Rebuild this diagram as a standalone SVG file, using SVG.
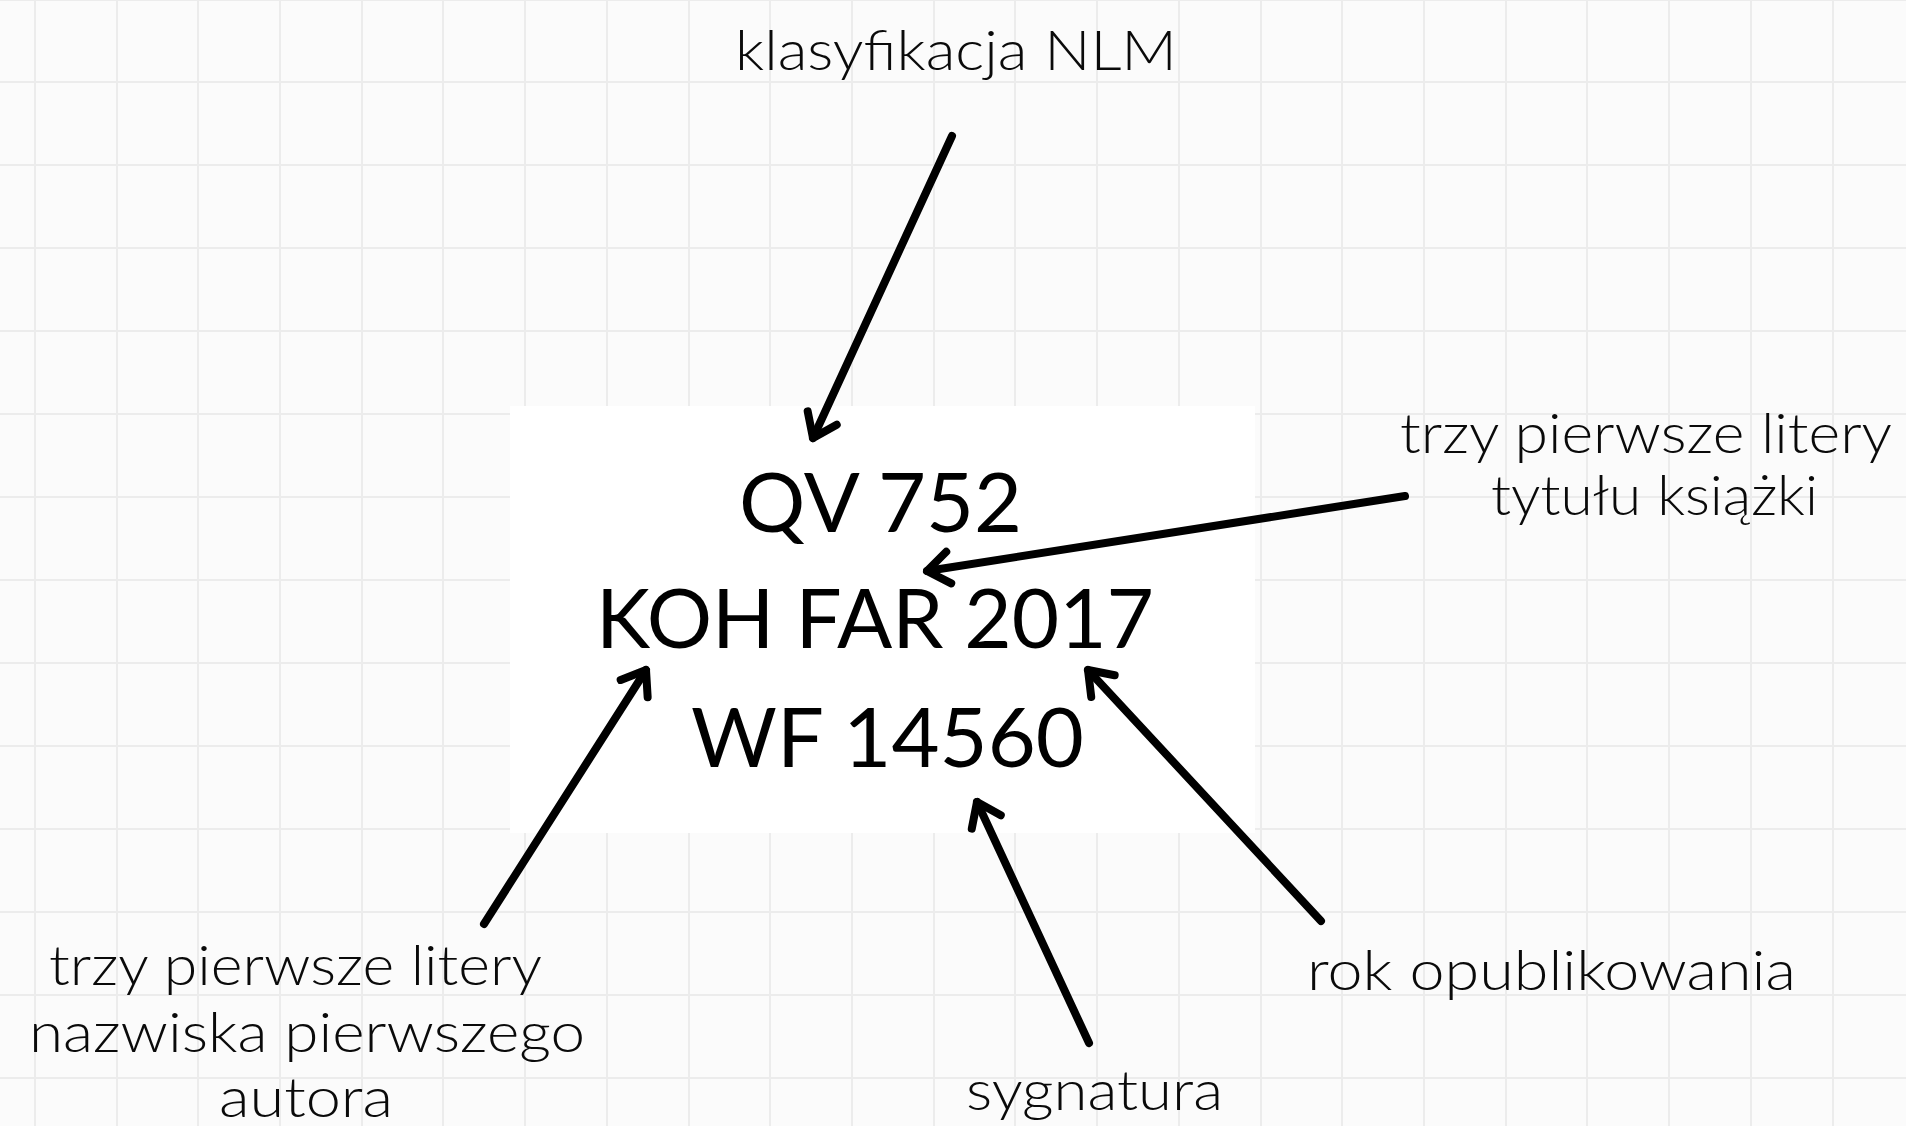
<svg xmlns="http://www.w3.org/2000/svg" width="1906" height="1126" viewBox="0 0 1906 1126">
<style>
.grid line{stroke:#ececec;stroke-width:2}
.lbl{font-family:Lato,"Noto Sans",sans-serif;font-size:56px;font-weight:300;fill:#0a0a0a}
.code{font-family:Lato,"Open Sans",sans-serif;font-size:81px;fill:#000}
.arrow{stroke:#000;stroke-width:8;stroke-linecap:round;fill:none}
</style>
<defs>
<marker id="head" markerUnits="userSpaceOnUse" orient="auto" refX="0" refY="0" markerWidth="60" markerHeight="60" overflow="visible">
<path d="M-22,-16 L0,0 L-22,16" fill="none" stroke="#000" stroke-width="8" stroke-linecap="round" stroke-linejoin="round"/>
</marker>
</defs>
<rect x="0" y="0" width="1906" height="1126" fill="#fbfbfb"/>
<g class="grid">
<line x1="35" y1="0" x2="35" y2="1126"/>
<line x1="117" y1="0" x2="117" y2="1126"/>
<line x1="198" y1="0" x2="198" y2="1126"/>
<line x1="280" y1="0" x2="280" y2="1126"/>
<line x1="362" y1="0" x2="362" y2="1126"/>
<line x1="443" y1="0" x2="443" y2="1126"/>
<line x1="525" y1="0" x2="525" y2="1126"/>
<line x1="607" y1="0" x2="607" y2="1126"/>
<line x1="689" y1="0" x2="689" y2="1126"/>
<line x1="770" y1="0" x2="770" y2="1126"/>
<line x1="852" y1="0" x2="852" y2="1126"/>
<line x1="934" y1="0" x2="934" y2="1126"/>
<line x1="1015" y1="0" x2="1015" y2="1126"/>
<line x1="1097" y1="0" x2="1097" y2="1126"/>
<line x1="1179" y1="0" x2="1179" y2="1126"/>
<line x1="1261" y1="0" x2="1261" y2="1126"/>
<line x1="1342" y1="0" x2="1342" y2="1126"/>
<line x1="1424" y1="0" x2="1424" y2="1126"/>
<line x1="1506" y1="0" x2="1506" y2="1126"/>
<line x1="1587" y1="0" x2="1587" y2="1126"/>
<line x1="1669" y1="0" x2="1669" y2="1126"/>
<line x1="1751" y1="0" x2="1751" y2="1126"/>
<line x1="1833" y1="0" x2="1833" y2="1126"/>
<line x1="0" y1="0" x2="1906" y2="0"/>
<line x1="0" y1="82" x2="1906" y2="82"/>
<line x1="0" y1="165" x2="1906" y2="165"/>
<line x1="0" y1="248" x2="1906" y2="248"/>
<line x1="0" y1="331" x2="1906" y2="331"/>
<line x1="0" y1="414" x2="1906" y2="414"/>
<line x1="0" y1="497" x2="1906" y2="497"/>
<line x1="0" y1="580" x2="1906" y2="580"/>
<line x1="0" y1="663" x2="1906" y2="663"/>
<line x1="0" y1="746" x2="1906" y2="746"/>
<line x1="0" y1="829" x2="1906" y2="829"/>
<line x1="0" y1="912" x2="1906" y2="912"/>
<line x1="0" y1="995" x2="1906" y2="995"/>
<line x1="0" y1="1078" x2="1906" y2="1078"/>
</g>
<g id="code-box">
<rect x="510" y="406" width="745" height="427" fill="#ffffff"/>
<text class="code" x="739" y="532" textLength="283" lengthAdjust="spacingAndGlyphs">QV 752</text>
<text class="code" x="596" y="648" textLength="558" lengthAdjust="spacingAndGlyphs">KOH FAR 2017</text>
<text class="code" x="691" y="767" textLength="393" lengthAdjust="spacingAndGlyphs">WF 14560</text>
</g>
<g id="label-nlm">
<text class="lbl" x="735" y="70" textLength="442" lengthAdjust="spacingAndGlyphs">klasyfikacja NLM</text>
</g>
<g id="label-tytul">
<text class="lbl" x="1400" y="453" textLength="492" lengthAdjust="spacingAndGlyphs">trzy pierwsze litery</text>
<text class="lbl" x="1491" y="515" textLength="327" lengthAdjust="spacingAndGlyphs">tytułu książki</text>
</g>
<g id="label-autor">
<text class="lbl" x="49" y="985" textLength="493" lengthAdjust="spacingAndGlyphs">trzy pierwsze litery</text>
<text class="lbl" x="29" y="1052" textLength="556" lengthAdjust="spacingAndGlyphs">nazwiska pierwszego</text>
<text class="lbl" x="219" y="1117" textLength="174" lengthAdjust="spacingAndGlyphs">autora</text>
</g>
<g id="label-rok">
<text class="lbl" x="1307" y="990" textLength="489" lengthAdjust="spacingAndGlyphs">rok opublikowania</text>
</g>
<g id="label-sygnatura">
<text class="lbl" x="966" y="1110" textLength="257" lengthAdjust="spacingAndGlyphs">sygnatura</text>
</g>
<g id="connectors">
<line class="arrow" x1="952" y1="136" x2="813" y2="438" marker-end="url(#head)"/>
<line class="arrow" x1="1405" y1="496" x2="927" y2="571" marker-end="url(#head)"/>
<line class="arrow" x1="484" y1="924" x2="646" y2="670" marker-end="url(#head)"/>
<line class="arrow" x1="1321" y1="921" x2="1088" y2="670" marker-end="url(#head)"/>
<line class="arrow" x1="1089" y1="1043" x2="977" y2="802" marker-end="url(#head)"/>
</g>
</svg>
